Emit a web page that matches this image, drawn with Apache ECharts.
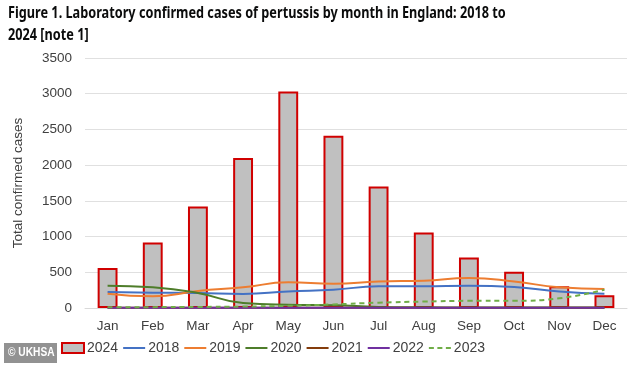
<!DOCTYPE html>
<html><head><meta charset="utf-8">
<script src="https://cdn.jsdelivr.net/npm/echarts@6/dist/echarts.min.js"></script>
<style>html,body{margin:0;padding:0;background:#fff}#c{width:633px;height:365px}</style>
</head><body><div id="c"></div>
<script>
const months = ['Jan','Feb','Mar','Apr','May','Jun','Jul','Aug','Sep','Oct','Nov','Dec'];
const y2024 = [560, 918, 1420, 2100, 3030, 2410, 1700, 1058, 708, 508, 303, 177];
const y2018 = [224, 215, 210, 196, 232, 256, 303, 303, 312, 294, 232, 200];
const y2019 = [200, 163, 238, 289, 359, 340, 372, 382, 420, 372, 289, 266];
const y2020 = [312, 290, 210, 70, 46, 40, 15, 10, 8, 8, 8, 8];
const y2021 = [5, 5, 5, 5, 5, 5, 5, 5, 5, 5, 5, 5];
const y2022 = [5, 5, 5, 5, 5, 5, 5, 5, 5, 5, 5, 5];
const y2023 = [10, 12, 15, 20, 30, 50, 75, 90, 100, 100, 136, 256];

const chart = echarts.init(document.getElementById('c'), null, {renderer:'canvas'});
const font = 'Liberation Sans, Arial, sans-serif';
function line(name, data, color, dashed){
  return {name, type:'line', data, smooth:true, showSymbol:false, symbol:'none', z:3,
    lineStyle:{color, width:2, type: dashed ? [5,4] : 'solid'}, itemStyle:{color}};
}
const lineIcon = 'path://M0,0L22,0L22,2L0,2Z';
const dashIcon = 'path://M0,0h5v2h-5zM8.5,0h5v2h-5zM17,0h5v2h-5z';
chart.setOption({
  animation:false,
  grid:{left:85, right:6, top:58, bottom:57},
  legend:{bottom:5, left:56, itemWidth:22, itemHeight:10, itemGap:5,
    textStyle:{fontFamily:font, fontSize:14, color:'#404040', padding:[0,0,0,-2]},
    data:[{name:'2024', icon:'rect'},{name:'2018', icon:lineIcon},{name:'2019', icon:lineIcon},{name:'2020', icon:lineIcon},{name:'2021', icon:lineIcon},{name:'2022', icon:lineIcon},{name:'2023', icon:dashIcon}]},
  xAxis:{type:'category', data:months, axisTick:{show:false},
    axisLine:{lineStyle:{color:'#d9d9d9'}},
    axisLabel:{fontFamily:font, fontSize:13.5, color:'#404040', margin:11}},
  yAxis:{type:'value', min:0, max:3500, interval:500,
    name:'Total confirmed cases', nameLocation:'middle', nameGap:60, nameRotate:90,
    nameTextStyle:{fontFamily:font, fontSize:13.5, color:'#404040'},
    axisLabel:{fontFamily:font, fontSize:13.5, color:'#404040', margin:13, formatter:v=>String(v)},
    splitLine:{lineStyle:{color:'#e0e0e0'}}},
  series:[
    {name:'2024', type:'bar', data:y2024, barWidth:'44%', z:2,
      itemStyle:{color:'#c0c0c0', borderColor:'#d00000', borderWidth:2}},
    line('2018', y2018, '#4472c4'),
    line('2019', y2019, '#ed7d31'),
    line('2020', y2020, '#4e7d2a'),
    line('2021', y2021, '#843c0c'),
    line('2022', y2022, '#7030a0'),
    line('2023', y2023, '#70ad47', true)
  ],
  graphic:[
    {type:'text', left:8, top:5, scaleX:0.77, style:{text:'Figure 1. Laboratory confirmed cases of pertussis by month in England: 2018 to', fill:'#0b0c0c', font:'bold 16.5px Noto Sans, sans-serif'}},
    {type:'text', left:8, top:27, scaleX:0.77, style:{text:'2024 [note 1]', fill:'#0b0c0c', font:'bold 16.5px Noto Sans, sans-serif'}},
    {type:'group', left:4, top:343, children:[
    {type:'rect', shape:{x:0,y:0,width:53,height:20}, style:{fill:'rgba(110,110,110,0.75)'}},
    {type:'text', scaleX:0.85, x:4, y:4, style:{text:'© UKHSA', fill:'#fff', font:'bold 12px Liberation Sans, Arial, sans-serif'}}
  ]}]
});
</script></body></html>
